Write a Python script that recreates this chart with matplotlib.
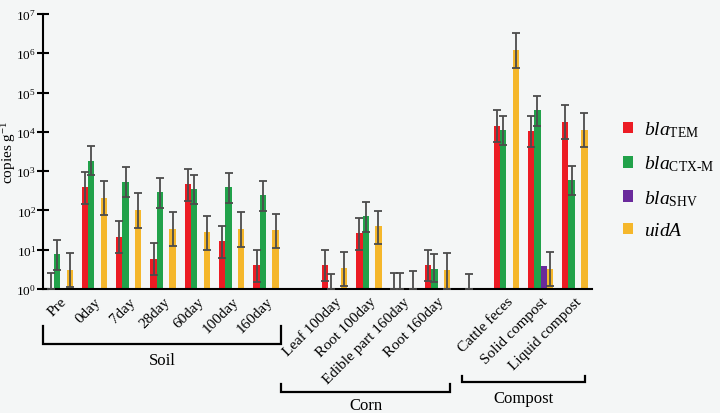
import numpy as np
import matplotlib
matplotlib.use("Agg")
import matplotlib.pyplot as plt
from matplotlib.lines import Line2D
from matplotlib.patches import Patch
import matplotlib.transforms as mtransforms

plt.rcParams['font.family'] = 'serif'
plt.rcParams['font.serif'] = ['Liberation Serif', 'DejaVu Serif']
plt.rcParams['mathtext.fontset'] = 'custom'
plt.rcParams['mathtext.rm'] = 'Liberation Serif'
plt.rcParams['mathtext.it'] = 'Liberation Serif:italic'
plt.rcParams['mathtext.bf'] = 'Liberation Serif:bold'

nan = np.nan
categories = ['Pre', '0day', '7day', '28day', '60day', '100day', '160day', '',
              'Leaf 100day', 'Root 100day', 'Edible part 160day', 'Root 160day', '',
              'Cattle feces', 'Solid compost', 'Liquid compost']
groups = ['Soil', 'Corn', 'Compost']

# mean values and error-bar bounds (copies per g)
tem     = [1, 390, 21.5, 5.8, 465, 16.5, 4.0, nan, 4.1, 26, 1, 4.0, nan, 14300, 10700, 18300]
tem_lo  = [1, 144, 8.3, 2.3, 174, 6.2, 1.5, nan, 1.6, 9.7, 1, 1.6, nan, 5600, 4000, 6700]
tem_hi  = [2.6, 960, 53, 14.5, 1150, 40, 9.7, nan, 10, 65, 2.6, 10, nan, 35500, 26000, 49000]

ctx     = [7.6, 1850, 530, 290, 355, 385, 250, nan, 1, 71, 1, 3.2, 1, 11000, 35000, 590]
ctx_lo  = [3.1, 790, 222, 118, 149, 158, 98, nan, 1, 29, 1, 1.5, 1, 4600, 14300, 245]
ctx_hi  = [17.8, 4300, 1240, 660, 820, 890, 570, nan, 2.4, 166, 2.6, 7.6, 2.4, 26000, 83000, 1350]

shv     = [nan, nan, nan, nan, nan, nan, nan, nan, nan, nan, nan, nan, nan, nan, 3.8, nan]
shv_lo  = [nan] * 16
shv_hi  = [nan] * 16

uida    = [3.1, 210, 102, 34.5, 27.5, 34.5, 31, nan, 3.4, 39, 1, 3.1, nan, 1.2e6, 3.2, 11400]
uida_lo = [1.1, 75, 36, 12.2, 9.7, 12, 11, nan, 1.2, 13.7, 1, 1.0, nan, 4.2e5, 1.2, 4200]
uida_hi = [8.1, 550, 275, 91, 72, 89, 81, nan, 9.0, 98, 2.8, 8.2, nan, 3.2e6, 8.5, 31000]

series = [
    (r'$\mathit{bla}_{\mathrm{TEM}}$', tem, tem_lo, tem_hi, '#ec1c24'),
    (r'$\mathit{bla}_{\mathrm{CTX\text{-}M}}$', ctx, ctx_lo, ctx_hi, '#21a24a'),
    (r'$\mathit{bla}_{\mathrm{SHV}}$', shv, shv_lo, shv_hi, '#6a2a9c'),
    (r'$\mathit{uidA}$', uida, uida_lo, uida_hi, '#f5b72b'),
]

bg = '#f4f6f6'
fig = plt.figure(figsize=(7.2, 4.14), dpi=100, facecolor=bg)
ax = fig.add_axes([43/720, 1-290/414, (592-43)/720, 275/414], facecolor=bg)

x = np.arange(len(categories))
w = 0.185
handles = []
for i, (lab, vals, lo, hi, col) in enumerate(series):
    v = np.array(vals, float)
    lo = np.array(lo, float)
    hi = np.array(hi, float)
    xs = x + (i - 1.5) * w
    ax.bar(xs, v, width=w, color=col, zorder=2, linewidth=0)
    m = ~np.isnan(hi)
    ax.errorbar(xs[m], v[m], yerr=[v[m] - lo[m], hi[m] - v[m]], fmt='none',
                ecolor='#4c4c4c', elinewidth=1.3, capsize=2.6, capthick=1.3, zorder=3)
    handles.append(Patch(facecolor=col, label=lab))

ax.set_yscale('log')
ax.set_ylim(1, 1e7)
ax.set_xlim(-0.5, len(categories) - 0.5)
ax.set_yticks([10**k for k in range(8)])
ax.minorticks_off()
for s in ['top', 'right']:
    ax.spines[s].set_visible(False)
for s in ['left', 'bottom']:
    ax.spines[s].set_linewidth(1.5)
ax.tick_params(axis='y', direction='inout', length=9, width=1.5, labelsize=9.5, pad=0.5)
ax.tick_params(axis='x', length=0, labelsize=11, pad=4)
ax.set_xticks(x)
ax.set_xticklabels(categories, rotation=45, ha='right', rotation_mode='anchor')
ax.set_ylabel(r'copies g$^{-1}$', fontsize=11)
ax.yaxis.set_label_coords((18 - 43) / 549, 0.5)

# group brackets
trans = mtransforms.blended_transform_factory(ax.transData, fig.transFigure)
brackets = [(-0.5, 6.45, 327, 345, 361), (6.45, 11.35, 385, 393, 406), (11.7, 15.3, 377, 383, 399)]
for g, (x0, x1, ytop, ybot, ylab) in zip(groups, brackets):
    yt, yb = 1 - ytop/414, 1 - ybot/414
    fig.add_artist(Line2D([x0, x0, x1, x1], [yt, yb, yb, yt], transform=trans,
                          color='black', lw=1.6, solid_joinstyle='miter'))
    fig.text((x0 + x1) / 2, 1 - ylab/414, g, transform=trans, ha='center', va='center', fontsize=12)

fig.legend(handles=handles, loc='upper left', bbox_to_anchor=(605/720, 1-103/414),
           frameon=False, fontsize=14, handlelength=0.55, handleheight=0.55,
           handletextpad=0.55, labelspacing=0.75)

fig.savefig('out.png', dpi=100, facecolor=bg)
